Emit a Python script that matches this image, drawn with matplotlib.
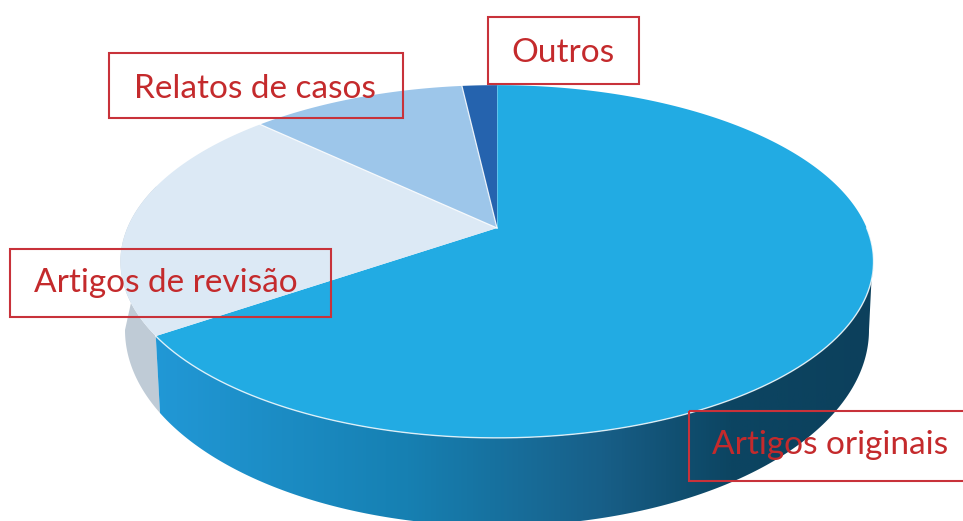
import numpy as np
import matplotlib
matplotlib.use("Agg")
import matplotlib.pyplot as plt
from matplotlib.colors import LinearSegmentedColormap
from matplotlib.patches import Polygon, Rectangle

# Parts du camembert, dans le sens horaire depuis le haut
labels = ["Artigos originais", "Artigos de revisão", "Relatos de casos", "Outros"]
values = [65.4, 21.7, 11.1, 1.8]
colors = ["#22abe3", "#dce9f5", "#9dc6ea", "#2563ae"]

# Position des étiquettes : x, y, largeur, hauteur de la boite, x et y du texte
label_boxes = [
    (689, 411, 280, 70, 712, 454),
    (10, 249, 321, 68, 34, 292),
    (109, 53, 294, 65, 134, 98),
    (488, 17, 151, 67, 511, 62),
]

# Perspective du disque
cx, cy = 497, 228
a, b, k = 369.7, 170.0, 0.19
# Ellipse du bas
bx, by, ba, bb = 497, 330, 372, 196


def project(theta):
    """Angle horaire depuis le haut (degrés) vers les pixels de l'image."""
    t = np.radians(theta)
    u, v = np.sin(t), np.cos(t)
    w = 1 + k * v
    return cx + a * u / w, cy - b * v / w


def bottom_arc(x_start, x_end, n=200):
    phi0 = np.arccos((x_start - bx) / ba)
    phi1 = np.arccos((x_end - bx) / ba)
    phi = np.linspace(phi0, phi1, n)
    return bx + ba * np.cos(phi), by + bb * np.sin(phi)


def top_arc(t0, t1, n=300):
    return project(np.linspace(t0, t1, n))


fig = plt.figure(figsize=(9.63, 5.21), dpi=100)
ax = fig.add_axes([0, 0, 1, 1])
ax.set_xlim(0, 963)
ax.set_ylim(521, 0)
ax.axis("off")

edges = np.cumsum([0] + values) / sum(values) * 360
end_orig = edges[1]

# Face latérale grise (revue)
tx, ty = top_arc(end_orig, 285)
gx, gy = bottom_arc(160, 125, 60)
ax.add_patch(Polygon(np.r_[np.c_[tx, ty], np.c_[gx, gy][::-1]],
                     fc="#bfcbd6", ec="none", zorder=1))

# Face latérale avec dégradé (articles originaux)
tx, ty = top_arc(0, end_orig)
keep = ty > 250
rx, ry = tx[keep], ty[keep]
lx, ly = bottom_arc(160, 869)
wall = Polygon(np.r_[np.c_[rx, ry], np.c_[lx, ly]], fc="none", ec="none",
               transform=ax.transData)
ax.add_patch(wall)
cmap = LinearSegmentedColormap.from_list("wall", [
    (0.0, "#2198d6"), (0.35, "#1680b2"), (0.62, "#185f88"),
    (0.80, "#0c4562"), (1.0, "#0c405c")])
grad = np.linspace(0, 1, 512).reshape(1, -1)
img = ax.imshow(grad, cmap=cmap, extent=(155, 875, 521, 270), aspect="auto",
                zorder=2)
img.set_clip_path(wall)
ax.set_xlim(0, 963)
ax.set_ylim(521, 0)

# Faces du dessus
for i in range(len(values)):
    sx, sy = top_arc(edges[i], edges[i + 1])
    pts = np.r_[[[cx, cy]], np.c_[sx, sy]]
    ax.add_patch(Polygon(pts, fc=colors[i], ec="none", zorder=3))

# Liserés blancs entre les parts
for e in edges[2:-1]:
    ex, ey = project(e)
    ax.plot([cx, ex], [cy, ey], color="white", lw=0.9, alpha=0.85, zorder=4)
ax.plot([cx, cx], [cy, 86], color="white", lw=0.5, alpha=0.4, zorder=4)
rx, ry = top_arc(90, end_orig)
ax.plot(rx, ry, color="white", lw=1.0, alpha=0.8, zorder=4)

# Étiquettes
for name, (x, y, w, h, tx0, ty0) in zip(labels, label_boxes):
    ax.add_patch(Rectangle((x, y), w, h, fc="none", ec="#c8323a", lw=1.5,
                           clip_on=True, zorder=5))
    ax.text(tx0, ty0, name, color="#c42a2c", fontsize=24, family="Lato",
            ha="left", va="baseline", zorder=6)

fig.savefig("out.png", dpi=100)
